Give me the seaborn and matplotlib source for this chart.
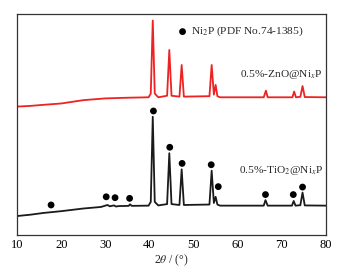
import numpy as np
import pandas as pd
import matplotlib
matplotlib.use("Agg")
import matplotlib.pyplot as plt
import seaborn as sns

# key points (2theta, intensity a.u.)
tio2_x = [10, 13, 16, 20, 25, 29, 30.5, 31, 32, 32.4, 33, 35.3, 35.6, 36, 39.8, 40.3, 40.75, 41.2, 42, 44.0, 44.5, 45.0,
          46.8, 47.3, 47.8, 53.6, 54.1, 54.6, 55.0, 55.4, 56, 65.9, 66.3, 66.8, 72.3, 72.7, 73.1, 74.2, 74.7, 75.2, 80]
tio2_y = [8.6, 9.2, 10.0, 10.8, 12.0, 12.7, 13.6, 13.0, 13.4, 12.9, 13.1, 13.2, 13.9, 13.2, 13.3, 15, 53.5, 15, 13.4, 14, 37, 14,
          13.6, 29.7, 13.6, 13.8, 29.1, 14.5, 17.3, 13.8, 13.3, 13.3, 15.8, 13.3, 13.3, 15.4, 13.3, 13.5, 19.2, 13.4, 13.3]

zno_x = [10, 13, 16, 20, 25, 30, 35, 39.8, 40.3, 40.75, 41.2, 42, 44.0, 44.5, 45.0, 46.8, 47.3, 47.8,
         53.6, 54.1, 54.6, 55.0, 55.4, 56, 65.9, 66.4, 66.8, 72.4, 72.8, 73.2, 74.2, 74.7, 75.2, 80]
zno_y = [58.1, 58.4, 58.9, 59.5, 61.0, 61.8, 62.1, 62.3, 64, 97, 64, 62.3, 63, 83.7, 63, 62.6, 76.9, 62.6,
         62.8, 76.9, 63.5, 67.9, 62.8, 62.3, 62.3, 65.3, 62.3, 62.3, 64.9, 62.3, 62.5, 67.4, 62.4, 62.3]

# Ni2P reference peaks (marker positions)
dot_x = [17.7, 30.2, 32.2, 35.5, 40.9, 44.6, 47.4, 54.0, 55.6, 66.3, 72.6, 74.7]
dot_y = [13.6, 17.3, 16.9, 16.6, 56.1, 39.7, 32.4, 31.8, 21.9, 18.3, 18.3, 21.7]

df = pd.concat([
    pd.DataFrame({"x": tio2_x, "y": tio2_y, "s": "tio2"}),
    pd.DataFrame({"x": zno_x, "y": zno_y, "s": "zno"}),
])

sns.set_style("white")
plt.rcParams["font.family"] = ["Liberation Serif", "DejaVu Serif"]
plt.rcParams["mathtext.fontset"] = "stix"

fig = plt.figure(figsize=(3.42, 2.73), dpi=100)
ax = fig.add_axes([0.050, 0.139, 0.903, 0.810])
sns.lineplot(data=df, x="x", y="y", hue="s", palette={"tio2": "#1a1a1a", "zno": "#ee2222"},
             lw=1.3, legend=False, ax=ax, sort=False)
sns.scatterplot(x=dot_x, y=dot_y, color="black", s=24, edgecolor="none", ax=ax)

ax.scatter([47.5], [92], color="black", s=24, edgecolor="none")
ax.text(49.4, 92, "Ni$_2$P (PDF No.74-1385)", fontsize=8.2, va="center")
ax.text(60.6, 72.4, "0.5%-ZnO@Ni$_x$P", fontsize=8.2, va="center")
ax.text(60.3, 29.4, "0.5%-TiO$_2$@Ni$_x$P", fontsize=8.2, va="center")

ax.set_xlim(10, 80)
ax.set_ylim(0, 100)
ax.set_xticks(range(10, 81, 10))
ax.set_yticks([])
ax.tick_params(axis="x", direction="in", length=2.5, width=0.8, labelsize=9, pad=3, colors="#333333")
ax.tick_params(axis="x", labelcolor="black")
for sp in ax.spines.values():
    sp.set_color("#333333")
    sp.set_linewidth(0.9)
ax.set_xlabel("2$\\theta$ / (°)", fontsize=8.5, labelpad=1)
ax.set_ylabel("")

fig.savefig("out.png", dpi=100)
